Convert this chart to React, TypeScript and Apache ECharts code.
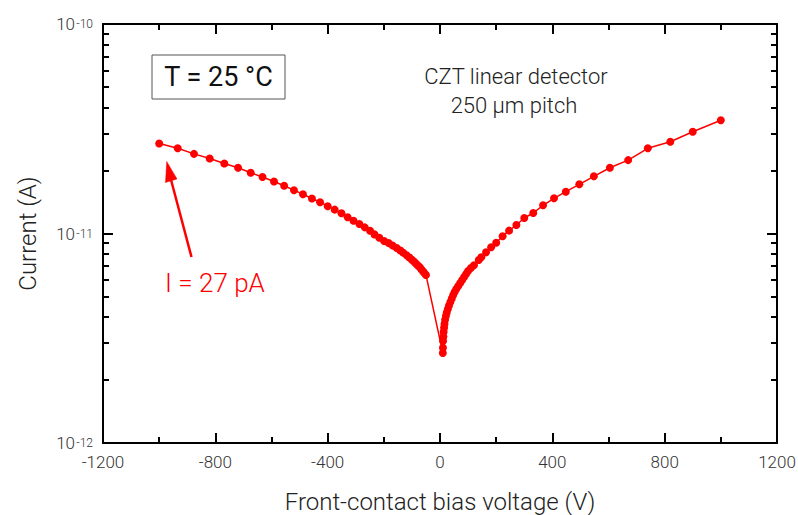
import React, { useEffect, useRef } from "react";
import * as echarts from "echarts";

// Bias voltage (V) and measured leakage current (A)
const voltageV = [
  -1000, -934, -876, -820, -768, -719, -674, -632, -591, -555, -520, -488, -456, -427, -400, -375, -351, -329, -308, -287,
  -268, -249, -233, -216, -199, -183, -168, -154, -141, -130, -119, -109, -100, -92, -85, -78, -72, -66, -60, -55, -50,
  10, 10.5, 11, 12, 13, 14.5, 16, 18, 21, 24, 28, 32, 37, 42, 47, 52, 58, 65, 72, 79,
  86, 93, 100, 110, 121, 138, 147, 164, 182, 200, 223, 246, 272, 300, 332, 367, 406, 448, 496, 548,
  605, 670, 740, 820, 900, 1000,
];
const currentA = [
  2.69e-11, 2.55e-11, 2.4e-11, 2.28e-11, 2.16e-11, 2.06e-11, 1.95e-11, 1.86e-11, 1.77e-11, 1.69e-11, 1.61e-11, 1.54e-11,
  1.47e-11, 1.41e-11, 1.35e-11, 1.3e-11, 1.25e-11, 1.195e-11, 1.15e-11, 1.11e-11, 1.07e-11, 1.03e-11, 9.9e-12, 9.55e-12,
  9.2e-12, 9.0e-12, 8.75e-12, 8.52e-12, 8.29e-12, 8.08e-12, 7.87e-12, 7.68e-12, 7.5e-12, 7.33e-12, 7.17e-12, 7.02e-12,
  6.9e-12, 6.74e-12, 6.58e-12, 6.46e-12, 6.34e-12,
  2.69e-12, 2.85e-12, 3.07e-12, 3.22e-12, 3.39e-12, 3.55e-12, 3.7e-12, 3.87e-12, 4.04e-12, 4.2e-12,
  4.36e-12, 4.53e-12, 4.71e-12, 4.9e-12, 5.09e-12, 5.26e-12, 5.43e-12, 5.62e-12, 5.8e-12, 6.0e-12,
  6.2e-12, 6.41e-12, 6.62e-12, 6.85e-12, 7.05e-12, 7.47e-12, 7.7e-12, 8.13e-12, 8.59e-12, 9.04e-12,
  9.7e-12, 1.032e-11, 1.098e-11, 1.186e-11, 1.253e-11, 1.363e-11, 1.472e-11, 1.583e-11, 1.717e-11, 1.875e-11,
  2.06e-11, 2.24e-11, 2.55e-11, 2.74e-11, 3.06e-11, 3.47e-11,
];

const yMajorTicks = [1e-12, 1e-11, 1e-10];
const yMinorTicks = [
  2e-12, 3e-12, 4e-12, 5e-12, 6e-12, 7e-12, 8e-12, 9e-12,
  2e-11, 3e-11, 4e-11, 5e-11, 6e-11, 7e-11, 8e-11, 9e-11,
];
const xMin = -1200;
const xMax = 1200;
const xStep = 400;

const FONT = "Roboto";
const RED = "#ff0000";
const LABEL = "#333333";

export default function App() {
  const ref = useRef<HTMLDivElement>(null);

  useEffect(() => {
    if (!ref.current) return;
    const chart = echarts.init(ref.current, null, { renderer: "svg" });

    const axisLine = { show: true, onZero: false, lineStyle: { color: "#000", width: 2 } };
    const noLine = { show: false, onZero: false };
    const baseX = {
      type: "value",
      min: xMin,
      max: xMax,
      interval: xStep,
      splitLine: { show: false },
      axisLine,
      axisTick: { show: true, inside: true, length: 10, lineStyle: { color: "#000", width: 2 } },
      minorTick: { show: true, splitNumber: 2, length: 6, lineStyle: { color: "#000", width: 2 } },
      minorSplitLine: { show: false },
    };
    const baseY = {
      type: "log",
      logBase: 10,
      min: 1e-12,
      max: 1e-10,
      splitLine: { show: false },
    };

    chart.setOption({
      animation: false,
      grid: { left: 103, right: 21, top: 24, bottom: 72, containLabel: false, outerBoundsMode: "none" },
      xAxis: [
        {
          ...baseX,
          position: "bottom",
          name: "Front-contact bias voltage (V)",
          nameLocation: "middle",
          nameGap: 47,
          nameTextStyle: { fontFamily: FONT, fontWeight: 300, fontSize: 24, color: "#222" },
          axisLabel: {
            show: true,
            margin: 10,
            fontFamily: FONT,
            fontWeight: 300,
            fontSize: 17,
            color: LABEL,
            formatter: (v: number) => String(v),
          },
        },
        {
          ...baseX,
          position: "top",
          axisLabel: { show: false },
        },
      ],
      yAxis: [
        {
          // left: major ticks, base "10" of the decade labels
          ...baseY,
          position: "left",
          name: "Current (A)",
          nameLocation: "middle",
          nameGap: 63,
          nameTextStyle: { fontFamily: FONT, fontWeight: 300, fontSize: 24, color: "#222" },
          axisLine,
          axisTick: {
            show: true,
            inside: true,
            length: 10,
            customValues: yMajorTicks,
            lineStyle: { color: "#000", width: 2 },
          },
          axisLabel: {
            show: true,
            margin: 28,
            color: LABEL,
            fontFamily: FONT,
            fontWeight: 300,
            fontSize: 17,
            padding: [3, 0, 0, 0],
            customValues: yMajorTicks,
            formatter: () => "10",
          },
        },
        {
          // left: minor ticks + decade exponents as superscripts
          ...baseY,
          position: "left",
          axisLine: noLine,
          axisTick: {
            show: true,
            inside: true,
            length: 6,
            customValues: yMinorTicks,
            lineStyle: { color: "#000", width: 2 },
          },
          axisLabel: {
            show: true,
            margin: 10,
            color: LABEL,
            fontFamily: FONT,
            fontWeight: 300,
            fontSize: 12,
            padding: [0, 0, 11, 0],
            customValues: yMajorTicks,
            formatter: (v: number) => String(Math.round(Math.log10(v))),
          },
        },
        {
          ...baseY,
          position: "right",
          axisLine,
          axisTick: {
            show: true,
            inside: true,
            length: 10,
            customValues: yMajorTicks,
            lineStyle: { color: "#000", width: 2 },
          },
          axisLabel: { show: false },
        },
        {
          ...baseY,
          position: "right",
          axisLine: noLine,
          axisTick: {
            show: true,
            inside: true,
            length: 6,
            customValues: yMinorTicks,
            lineStyle: { color: "#000", width: 2 },
          },
          axisLabel: { show: false },
        },
      ],
      series: [
        {
          type: "line",
          xAxisIndex: 0,
          yAxisIndex: 0,
          data: voltageV.map((v, i) => [v, currentA[i]]),
          symbol: "circle",
          symbolSize: 8,
          showAllSymbol: true,
          itemStyle: { color: RED },
          lineStyle: { color: RED, width: 1.5 },
          z: 3,
        },
      ],
      graphic: [
        {
          type: "rect",
          shape: { x: 152, y: 55, width: 133, height: 44 },
          style: { fill: "#fff", stroke: "#555", lineWidth: 1 },
        },
        {
          type: "text",
          x: 218.5,
          y: 77,
          style: {
            text: "T = 25 °C",
            fontFamily: FONT,
            fontSize: 27,
            fill: "#111",
            align: "center",
            verticalAlign: "middle",
          },
        },
        {
          type: "text",
          x: 516,
          y: 76,
          style: {
            text: "CZT linear detector",
            fontFamily: FONT,
            fontWeight: 300,
            fontSize: 22,
            fill: "#222",
            align: "center",
            verticalAlign: "middle",
          },
        },
        {
          type: "text",
          x: 514,
          y: 105,
          style: {
            text: "250 μm pitch",
            fontFamily: FONT,
            fontWeight: 300,
            fontSize: 22,
            fill: "#222",
            align: "center",
            verticalAlign: "middle",
          },
        },
        {
          type: "text",
          x: 165,
          y: 283,
          style: {
            text: "I = 27 pA",
            fontFamily: FONT,
            fontWeight: 300,
            fontSize: 26,
            fill: RED,
            align: "left",
            verticalAlign: "middle",
          },
        },
        {
          type: "line",
          shape: { x1: 191.5, y1: 257, x2: 170, y2: 176 },
          style: { stroke: RED, lineWidth: 2.5 },
        },
        {
          type: "polygon",
          shape: { points: [[166.7, 161.5], [165.5, 182.5], [177, 179]] },
          style: { fill: RED, stroke: RED, lineWidth: 0.5 },
        },
      ],
    });

    return () => chart.dispose();
  }, []);

  return (
    <div
      ref={ref}
      style={{ position: "fixed", left: 0, top: 0, width: 798, height: 515, background: "#fff" }}
    />
  );
}
